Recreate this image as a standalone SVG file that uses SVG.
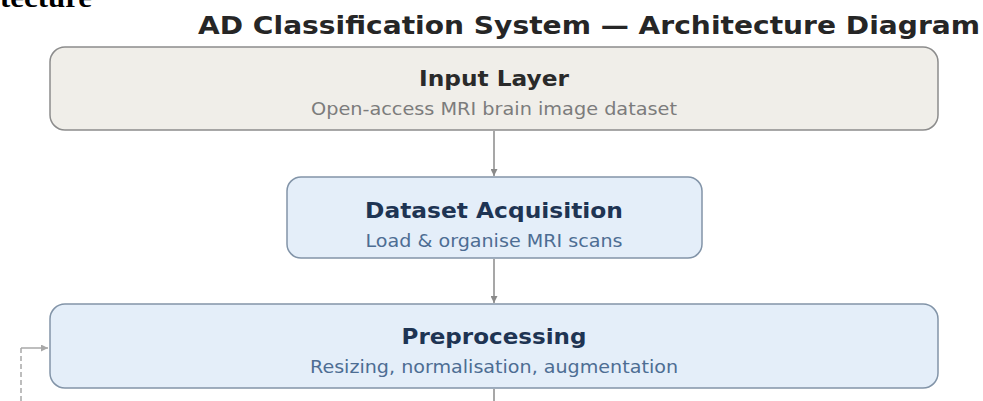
<svg xmlns="http://www.w3.org/2000/svg" width="983" height="401" viewBox="0 0 983 401">
  <defs>
    <marker id="arrow" viewBox="0 0 10 10" refX="10" refY="5" markerWidth="7" markerHeight="7" markerUnits="userSpaceOnUse" orient="auto">
      <path d="M0,0 L10,5 L0,10 z" fill="#8a8a8a"/>
    </marker>
    <marker id="arrow-light" viewBox="0 0 10 10" refX="10" refY="5" markerWidth="7" markerHeight="7" markerUnits="userSpaceOnUse" orient="auto">
      <path d="M0,0 L10,5 L0,10 z" fill="#a8a8a8"/>
    </marker>
  </defs>
  <style>
    .heading { font-family: "DejaVu Sans", sans-serif; font-weight: bold; font-size: 25px; fill: #262626; }
    .page { font-family: "Liberation Serif", serif; font-weight: bold; font-size: 28px; fill: #000; }
    .box-input { fill: #f0eee9; stroke: #8c8c8c; stroke-width: 1.5; }
    .box-step { fill: #e4eef9; stroke: #8294a8; stroke-width: 1.5; }
    .title { font-family: "DejaVu Sans", sans-serif; font-weight: bold; font-size: 21px; text-anchor: middle; }
    .sub { font-family: "DejaVu Sans", sans-serif; font-size: 17px; text-anchor: middle; }
    .title-input { fill: #2a2a2a; }
    .sub-input { fill: #7c7c7c; }
    .title-step { fill: #1e3453; }
    .sub-step { fill: #4d6d93; }
    .flow { stroke: #8a8a8a; stroke-width: 1.5; fill: none; }
    .loop { stroke: #a8a8a8; stroke-width: 1.5; fill: none; }
  </style>
  <rect width="983" height="401" fill="#ffffff"/>

  <!-- trailing part of the page heading above the figure -->
  <text class="page" x="0" y="7" textLength="92" lengthAdjust="spacingAndGlyphs">tecture</text>

  <!-- figure heading -->
  <text class="heading" x="198" y="34" textLength="782" lengthAdjust="spacingAndGlyphs">AD Classification System — Architecture Diagram</text>

  <!-- connectors -->
  <g id="connectors">
    <line class="flow" x1="494" y1="131" x2="494" y2="176" marker-end="url(#arrow)"/>
    <line class="flow" x1="494" y1="259" x2="494" y2="303" marker-end="url(#arrow)"/>
    <line class="flow" x1="494" y1="389" x2="494" y2="401"/>
    <path class="loop" d="M21,401 L21,348" stroke-dasharray="5,3"/>
    <path class="loop" d="M21,348 L48,348" marker-end="url(#arrow-light)"/>
  </g>

  <g id="input-layer">
    <rect class="box-input" x="50" y="47" width="888" height="83" rx="15"/>
    <text class="title title-input" x="494" y="86" textLength="150" lengthAdjust="spacingAndGlyphs">Input Layer</text>
    <text class="sub sub-input" x="494" y="115" textLength="366" lengthAdjust="spacingAndGlyphs">Open-access MRI brain image dataset</text>
  </g>

  <g id="dataset-acquisition">
    <rect class="box-step" x="287" y="177" width="415" height="81" rx="14"/>
    <text class="title title-step" x="494" y="218" textLength="258" lengthAdjust="spacingAndGlyphs">Dataset Acquisition</text>
    <text class="sub sub-step" x="494" y="247" textLength="257" lengthAdjust="spacingAndGlyphs">Load &amp; organise MRI scans</text>
  </g>

  <g id="preprocessing">
    <rect class="box-step" x="50" y="304" width="888" height="84" rx="15"/>
    <text class="title title-step" x="494" y="344" textLength="185" lengthAdjust="spacingAndGlyphs">Preprocessing</text>
    <text class="sub sub-step" x="494" y="373" textLength="368" lengthAdjust="spacingAndGlyphs">Resizing, normalisation, augmentation</text>
  </g>
</svg>
